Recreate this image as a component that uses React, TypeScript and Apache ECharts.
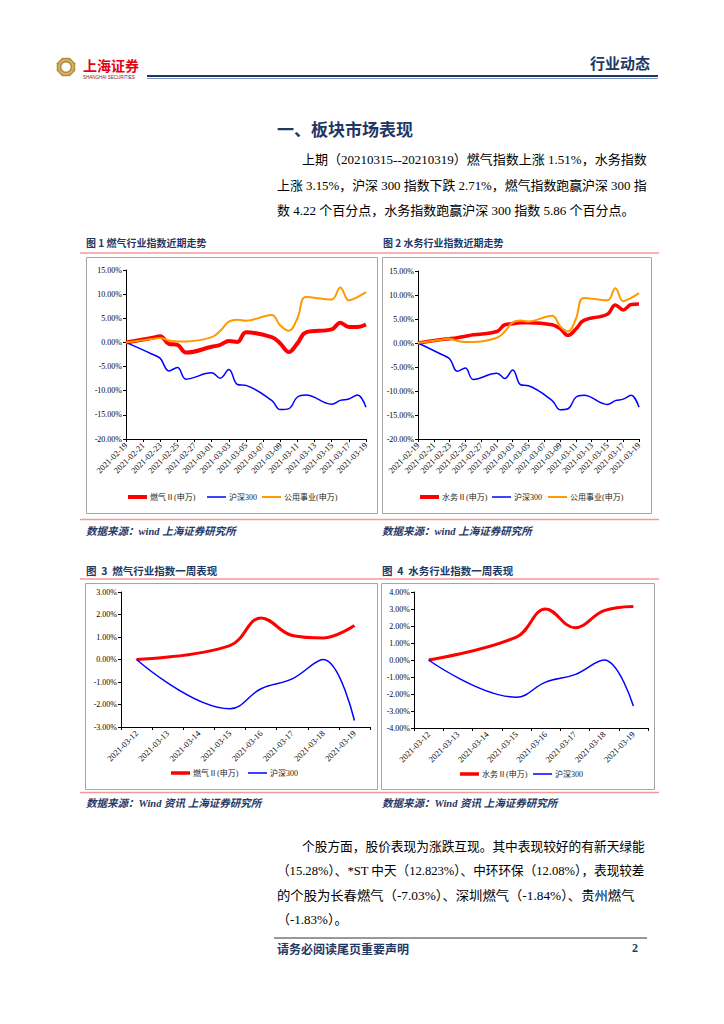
import React, { useEffect, useRef } from 'react';
import * as echarts from 'echarts';

// ---------- data ----------
const dailyDates = [
  '2021-02-19', '2021-02-20', '2021-02-21', '2021-02-22', '2021-02-23', '2021-02-24', '2021-02-25',
  '2021-02-26', '2021-02-27', '2021-02-28', '2021-03-01', '2021-03-02', '2021-03-03', '2021-03-04',
  '2021-03-05', '2021-03-06', '2021-03-07', '2021-03-08', '2021-03-09', '2021-03-10', '2021-03-11',
  '2021-03-12', '2021-03-13', '2021-03-14', '2021-03-15', '2021-03-16', '2021-03-17', '2021-03-18',
  '2021-03-19',
];
const gasDaily = [0, null, null, 0.9, 1.3, -0.3, -0.5, -2.1, null, null, -0.9, -0.5, 0.3, 0.1, 2.1, null, null, 1.1, -0.2, -2.0, -0.2, 2.1, null, null, 2.7, 4.1, 3.2, 3.2, 3.7];
const waterDaily = [0, null, null, 0.75, 0.9, 1.1, 1.4, 1.7, null, null, 2.4, 3.8, 4.0, 4.2, 4.2, null, null, 3.8, 3.0, 1.6, 2.9, 4.7, null, null, 6.0, 7.9, 6.9, 8.0, 8.1];
const utilityDaily = [0, null, null, 0.7, 0.9, 0.4, 0.2, 0.2, null, null, 1.1, 2.4, 4.3, 4.7, 4.5, null, null, 5.7, 3.5, 2.4, 5.0, 9.4, null, null, 8.9, 11.4, 8.7, 9.4, 10.4];
const hs300Daily = [0, null, null, -2.4, -3.3, -5.9, -5.2, -7.6, null, null, -6.3, -7.4, -5.6, -8.7, -8.9, null, null, -12.0, -13.9, -13.7, -11.3, -10.9, null, null, -12.8, -12.0, -11.7, -10.9, -13.4];

const weekDates = ['2021-03-12', '2021-03-13', '2021-03-14', '2021-03-15', '2021-03-16', '2021-03-17', '2021-03-18', '2021-03-19'];
const gasWeek = [0, null, null, 0.62, 1.85, 1.07, 0.96, 1.51];
const waterWeek = [0, null, null, 1.35, 3.0, 1.9, 2.9, 3.15];
const hs300Week = [0, null, null, -2.19, -1.3, -0.86, 0.0, -2.71];

const NAME_GAS = '燃气Ⅱ(申万)';
const NAME_WATER = '水务Ⅱ(申万)';
const NAME_HS = '沪深300';
const NAME_UTIL = '公用事业(申万)';

const para1 = [
  '上期（20210315--20210319）燃气指数上涨 1.51%，水务指数',
  '上涨 3.15%，沪深 300 指数下跌 2.71%，燃气指数跑赢沪深 300 指',
  '数 4.22 个百分点，水务指数跑赢沪深 300 指数 5.86 个百分点。',
];
const para2 = [
  '个股方面，股价表现为涨跌互现。其中表现较好的有新天绿能',
  '（15.28%）、*ST 中天（12.823%）、中环环保（12.08%），表现较差',
  '的个股为长春燃气（-7.03%）、深圳燃气（-1.84%）、贵州燃气',
  '（-1.83%）。',
];

// ---------- styles ----------
const NAVY = '#1F3864';
const PINK = '#F29A9A';
const RED = '#FF0000';
const BLUE = '#0000FF';
const ORANGE = '#FF9900';
const NUM_FONT = '"Liberation Serif", "Times New Roman", "Noto Sans CJK SC", serif';
const CJK_FONT = '"Noto Sans CJK SC", sans-serif';

function measure(text: string, font: string): number {
  const c = document.createElement('canvas');
  const ctx = c.getContext('2d');
  if (!ctx) return 0;
  ctx.font = font;
  return ctx.measureText(text).width;
}

function txt(text: string, x: number, y: number, o: any = {}) {
  const fontSize = o.fontSize || 13;
  const fontFamily = o.fontFamily || NUM_FONT;
  const fontWeight = o.fontWeight || 'normal';
  const fontStyle = o.fontStyle || 'normal';
  let scaleX = 1;
  if (o.targetWidth) {
    const w = measure(text, `${fontStyle} ${fontWeight} ${fontSize}px ${fontFamily}`);
    if (w > 0) scaleX = Math.max(0.85, Math.min(1.15, o.targetWidth / w));
  }
  return {
    type: 'text',
    x,
    y,
    scaleX,
    silent: true,
    style: {
      text,
      fill: o.fill || '#000',
      fontSize,
      fontFamily,
      fontWeight,
      fontStyle,
      lineHeight: o.lineHeight || undefined,
      align: o.align || 'left',
      textAlign: o.align || 'left',
      verticalAlign: 'middle',
      textVerticalAlign: 'middle',
    },
  };
}

function hline(x1: number, x2: number, y: number, stroke: string, lineWidth: number) {
  return { type: 'line', silent: true, shape: { x1, y1: y, x2, y2: y }, style: { stroke, lineWidth } };
}

function box(x: number, y: number, w: number, h: number) {
  return {
    type: 'rect',
    silent: true,
    shape: { x: x + 0.5, y: y + 0.5, width: w, height: h },
    style: { fill: 'none', stroke: '#A6A6A6', lineWidth: 1 },
  };
}

function octagon(cx: number, cy: number, r: number) {
  const pts: number[][] = [];
  for (let k = 0; k < 8; k++) {
    const a = (Math.PI / 8) + (k * Math.PI) / 4;
    pts.push([cx + r * Math.cos(a), cy + r * Math.sin(a)]);
  }
  return pts;
}

const pctFmt = (v: number) => `${v.toFixed(2)}%`;

function xAxisDaily(gridIndex: number) {
  return {
    gridIndex,
    type: 'category',
    data: dailyDates,
    boundaryGap: false,
    axisLine: { onZero: false, lineStyle: { color: '#000', width: 1 } },
    axisTick: { show: true, interval: 1, length: 3, lineStyle: { color: '#000' } },
    axisLabel: { interval: 1, rotate: 45, fontSize: 8.5, color: '#000', fontFamily: NUM_FONT, margin: 5 },
    splitLine: { show: false },
  };
}
function xAxisWeek(gridIndex: number) {
  return {
    gridIndex,
    type: 'category',
    data: weekDates,
    boundaryGap: true,
    axisLine: { onZero: false, lineStyle: { color: '#000', width: 1 } },
    axisTick: { show: true, interval: 0, length: 3, lineStyle: { color: '#000' } },
    axisLabel: { interval: 0, rotate: 45, fontSize: 8.5, color: '#000', fontFamily: NUM_FONT, margin: 5 },
    splitLine: { show: false },
  };
}
function yAxis(gridIndex: number, min: number, max: number, interval: number) {
  return {
    gridIndex,
    type: 'value',
    min,
    max,
    interval,
    axisLine: { show: true, lineStyle: { color: '#000', width: 1 } },
    axisTick: { show: true, length: 3, lineStyle: { color: '#000' } },
    axisLabel: { formatter: pctFmt, fontSize: 8, color: '#000', fontFamily: NUM_FONT, margin: 4 },
    splitLine: { show: false },
  };
}
function line(name: string, idx: number, data: any[], color: string, width: number) {
  return {
    type: 'line',
    name,
    xAxisIndex: idx,
    yAxisIndex: idx,
    data,
    smooth: 0.4,
    connectNulls: true,
    symbol: 'none',
    lineStyle: { color, width },
    itemStyle: { color },
    emphasis: { disabled: true },
    silent: true,
  };
}
function legendItem(name: string, left: number, cy: number, thick: number) {
  return {
    data: [name],
    left,
    top: cy - 5,
    padding: 0,
    icon: 'rect',
    itemWidth: 19,
    itemHeight: thick,
    itemGap: 4,
    selectedMode: false,
    itemStyle: { borderWidth: 0 },
    textStyle: { fontSize: 8, lineHeight: 10, color: '#222', fontFamily: NUM_FONT, padding: [0, 0, 0, -2] },
  };
}

function buildOption() {
  const graphic: any[] = [
    // header
    { type: 'polygon', silent: true, shape: { points: octagon(66, 67, 10) }, style: { fill: '#B38A3C' } },
    { type: 'circle', silent: true, shape: { cx: 66, cy: 67, r: 4.6 }, style: { fill: '#fff' } },
    { type: 'ring', silent: true, shape: { cx: 66, cy: 67, r: 8, r0: 6.2 }, style: { fill: '#D4B26A' } },
    txt('上海证券', 83, 64.5, { fontSize: 14, lineHeight: 15, fontFamily: CJK_FONT, fontWeight: 'bold', fill: '#E60012' }),
    txt('SHANGHAI SECURITIES', 83, 77.5, { fontSize: 4.5, lineHeight: 5, fontFamily: '"Liberation Sans", sans-serif', fill: '#7A1C1C' }),
    txt('行业动态', 590, 62, { fontSize: 15, fontFamily: CJK_FONT, fontWeight: 'bold', fill: NAVY }),
    hline(147, 658, 76, NAVY, 2),
    hline(147, 658, 78.5, '#7E98C0', 1),
    // title and paragraph 1
    txt('一、板块市场表现', 277, 128, { fontSize: 17, fontFamily: CJK_FONT, fontWeight: 'bold', fill: NAVY }),
    txt(para1[0], 302, 160, { targetWidth: 345 }),
    txt(para1[1], 277, 185, { targetWidth: 370 }),
    txt(para1[2], 277, 210),
    // figure 1/2 captions
    txt('图 1 燃气行业指数近期走势', 86, 242, { fontSize: 10, fontFamily: CJK_FONT, fontWeight: 'bold', fill: NAVY }),
    txt('图 2 水务行业指数近期走势', 383, 242, { fontSize: 10, fontFamily: CJK_FONT, fontWeight: 'bold', fill: NAVY }),
    hline(80, 659, 253, PINK, 1.5),
    box(86, 257, 291, 256),
    box(382, 257, 269, 256),
    hline(80, 659, 519.5, PINK, 1.5),
    txt('数据来源：wind 上海证券研究所', 86, 531, { fontSize: 10.5, fontWeight: 'bold', fontStyle: 'italic', fill: NAVY }),
    txt('数据来源：wind 上海证券研究所', 382, 531, { fontSize: 10.5, fontWeight: 'bold', fontStyle: 'italic', fill: NAVY }),
    // figure 3/4 captions
    txt('图  3  燃气行业指数一周表现', 86, 570, { fontSize: 10.5, fontFamily: CJK_FONT, fontWeight: 'bold', fill: NAVY }),
    txt('图  4  水务行业指数一周表现', 382, 570, { fontSize: 10.5, fontFamily: CJK_FONT, fontWeight: 'bold', fill: NAVY }),
    hline(80, 659, 579, PINK, 1.5),
    box(85, 583, 292, 206),
    box(381, 583, 273, 206),
    hline(80, 659, 792.5, PINK, 1.5),
    txt('数据来源：Wind 资讯 上海证券研究所', 86, 803, { fontSize: 10.5, fontWeight: 'bold', fontStyle: 'italic', fill: NAVY }),
    txt('数据来源：Wind 资讯 上海证券研究所', 382, 803, { fontSize: 10.5, fontWeight: 'bold', fontStyle: 'italic', fill: NAVY }),
    // paragraph 2
    txt(para2[0], 302, 847, { targetWidth: 343 }),
    txt(para2[1], 277, 871, { targetWidth: 368 }),
    txt(para2[2], 277, 896, { targetWidth: 358 }),
    txt(para2[3], 277, 919),
    // footer
    hline(274, 647, 938, '#333', 1),
    txt('请务必阅读尾页重要声明', 277, 948, { fontSize: 12, fontFamily: CJK_FONT, fontWeight: 'bold', fill: NAVY }),
    txt('2', 632, 948, { fontSize: 12, fontWeight: 'bold', fill: NAVY }),
  ];

  return {
    animation: false,
    backgroundColor: '#fff',
    grid: [
      { left: 126, top: 270, width: 240, height: 169 },
      { left: 418, top: 271, width: 221, height: 168 },
      { left: 121, top: 592, width: 249, height: 135 },
      { left: 414, top: 592, width: 234, height: 136 },
    ],
    xAxis: [xAxisDaily(0), xAxisDaily(1), xAxisWeek(2), xAxisWeek(3)],
    yAxis: [yAxis(0, -20, 15, 5), yAxis(1, -20, 15, 5), yAxis(2, -3, 3, 1), yAxis(3, -4, 4, 1)],
    legend: [
      legendItem(NAME_GAS, 128, 497, 4),
      legendItem(NAME_HS, 207, 497, 1.5),
      legendItem(NAME_UTIL, 262, 497, 2),
      legendItem(NAME_WATER, 420, 497, 4),
      legendItem(NAME_HS, 492, 497, 1.5),
      legendItem(NAME_UTIL, 548, 497, 2),
      legendItem(NAME_GAS, 171, 773, 3.5),
      legendItem(NAME_HS, 248, 773, 1.5),
      legendItem(NAME_WATER, 460, 774, 3.5),
      legendItem(NAME_HS, 533, 774, 1.5),
    ],
    series: [
      line(NAME_GAS, 0, gasDaily, RED, 4),
      line(NAME_HS, 0, hs300Daily, BLUE, 1.5),
      line(NAME_UTIL, 0, utilityDaily, ORANGE, 2),
      line(NAME_WATER, 1, waterDaily, RED, 3.5),
      line(NAME_HS, 1, hs300Daily, BLUE, 1.5),
      line(NAME_UTIL, 1, utilityDaily, ORANGE, 2),
      line(NAME_GAS, 2, gasWeek, RED, 3),
      line(NAME_HS, 2, hs300Week, BLUE, 1.5),
      line(NAME_WATER, 3, waterWeek, RED, 3),
      line(NAME_HS, 3, hs300Week, BLUE, 1.5),
    ],
    graphic,
  };
}

export default function App() {
  const ref = useRef<HTMLDivElement>(null);
  useEffect(() => {
    if (!ref.current) return;
    const chart = echarts.init(ref.current, null, { renderer: 'svg' });
    chart.setOption(buildOption() as any);
    return () => chart.dispose();
  }, []);
  return (
    <div
      ref={ref}
      style={{ position: 'absolute', left: 0, top: 0, width: 724, height: 1024, background: '#fff' }}
    />
  );
}
